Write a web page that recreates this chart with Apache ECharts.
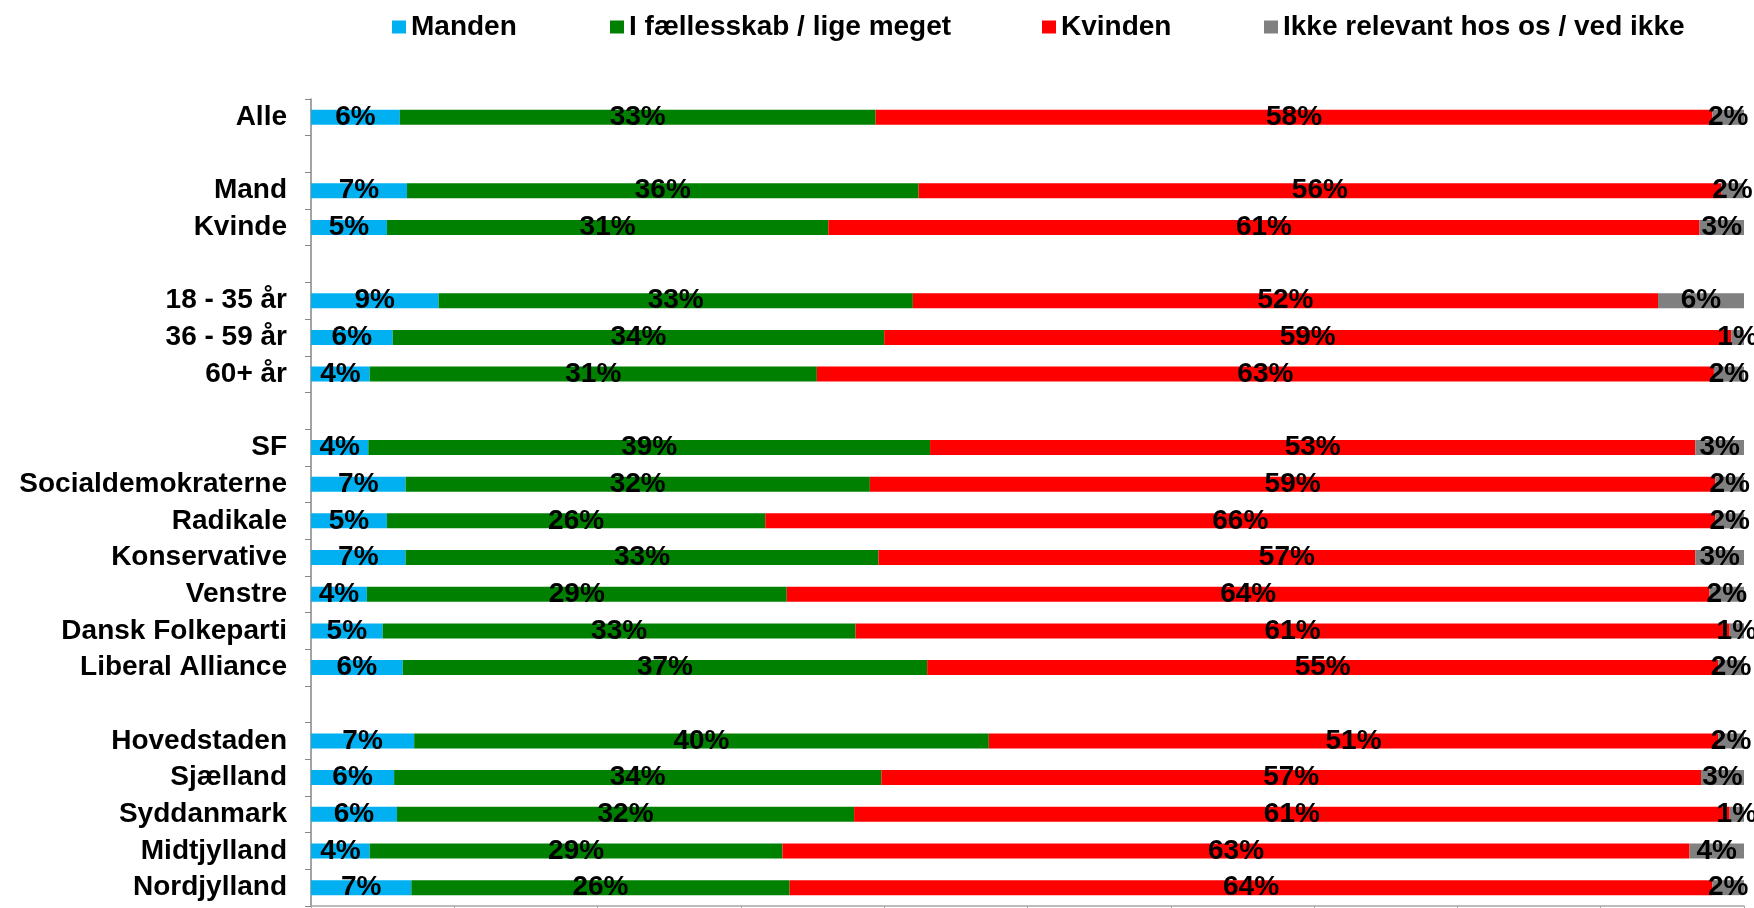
<!DOCTYPE html>
<html>
<head>
<meta charset="utf-8">
<script src="https://cdn.jsdelivr.net/npm/echarts@6/dist/echarts.min.js"></script>
<style>
html,body{margin:0;padding:0;background:#fff;}
#c{width:1754px;height:908px;}
</style>
</head>
<body>
<div id="c"></div>
<script>
const categories = ['Alle','', 'Mand','Kvinde','', '18 - 35 år','36 - 59 år','60+ år','', 'SF','Socialdemokraterne','Radikale','Konservative','Venstre','Dansk Folkeparti','Liberal Alliance','', 'Hovedstaden','Sjælland','Syddanmark','Midtjylland','Nordjylland'];
const seriesNames = ['Manden','I fællesskab / lige meget','Kvinden','Ikke relevant hos os / ved ikke'];
const manden    = [6.2,null, 6.7,5.3,null, 8.9,5.7,4.1,null, 4.0,6.6,5.3,6.6,3.9,5.0,6.4,null, 7.2,5.8,6.0,4.1,7.0];
const faelles   = [33.2,null, 35.7,30.8,null, 33.1,34.3,31.2,null, 39.2,32.4,26.4,33.0,29.3,33.0,36.6,null, 40.1,34.0,31.9,28.8,26.4];
const kvinden   = [58.4,null, 56.0,60.8,null, 52.0,59.1,62.6,null, 53.4,59.0,66.3,57.0,64.4,61.0,55.2,null, 50.9,57.2,61.1,63.3,64.4];
const ikke      = [2.2,null, 1.6,3.1,null, 6.0,0.9,2.1,null, 3.4,2.0,2.0,3.4,2.4,1.0,1.8,null, 1.8,3.0,1.0,3.8,2.2];
const colors = ['#00B0F0','#008000','#FF0000','#808080'];
const values = [manden, faelles, kvinden, ikke];
const legendLeft = [387, 605, 1037, 1259];

const FONT = '"Liberation Sans", Arial, sans-serif';
const chart = echarts.init(document.getElementById('c'));
chart.setOption({
  animation: false,
  color: colors,
  textStyle: {fontFamily: FONT},
  legend: seriesNames.map((n, i) => ({
    left: legendLeft[i], top: 8,
    itemWidth: 14, itemHeight: 13,
    icon: 'rect',
    textStyle: {fontFamily: FONT, fontWeight: 'bold', fontSize: 28, color: '#000'},
    data: [n]
  })),
  grid: {left: 311, right: 10, top: 99, height: 807, containLabel: false},
  xAxis: {
    type: 'value', min: 0, max: 100, interval: 10,
    axisLine: {show: true, lineStyle: {color: '#a6a6a6', width: 1.5}},
    axisTick: {show: true, length: 6, lineStyle: {color: '#a6a6a6'}},
    axisLabel: {show: false},
    splitLine: {show: false}
  },
  yAxis: {
    type: 'category', inverse: true, data: categories,
    axisLine: {show: true, lineStyle: {color: '#868686', width: 1.5}},
    axisTick: {show: true, length: 6, lineStyle: {color: '#868686'}},
    axisLabel: {margin: 24, fontFamily: FONT, fontWeight: 'bold', fontSize: 28, color: '#000'}
  },
  series: seriesNames.map((n, i) => ({
    name: n, type: 'bar', stack: 'all', barWidth: 15,
    data: values[i],
    itemStyle: {color: colors[i]},
    label: {
      show: true, position: 'inside',
      fontFamily: FONT, fontWeight: 'bold', fontSize: 28, color: '#000',
      formatter: p => p.value == null ? '' : Math.round(p.value) + '%'
    }
  }))
});
</script>
</body>
</html>
